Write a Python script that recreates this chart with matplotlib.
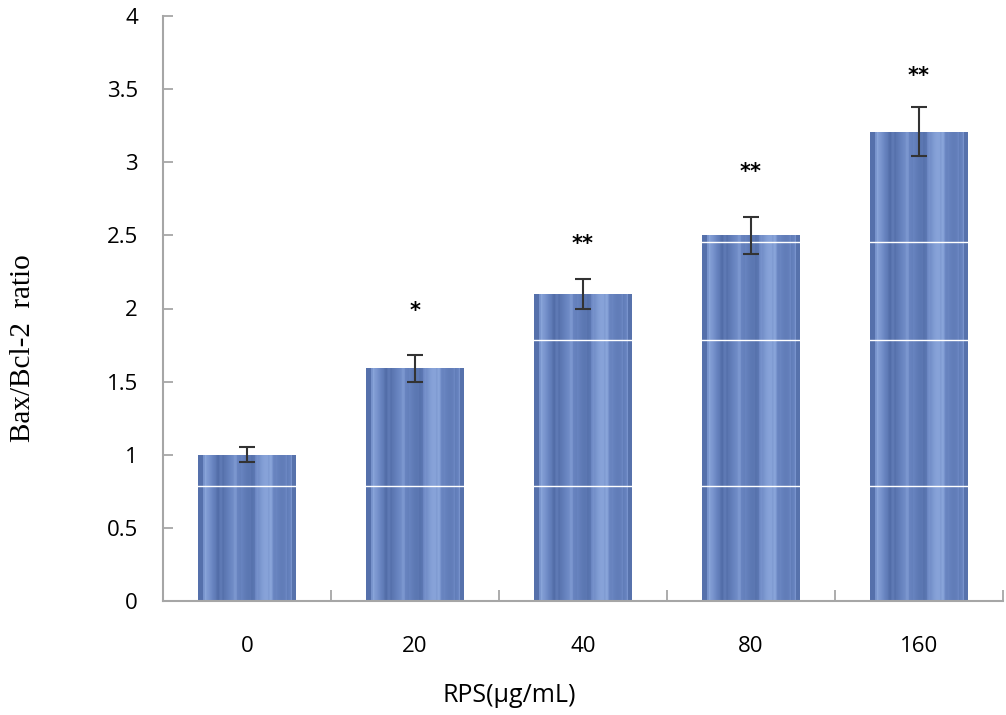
import numpy as np
import matplotlib
matplotlib.use("Agg")
import matplotlib.pyplot as plt
from matplotlib.colors import LinearSegmentedColormap

# ---- data ----
categories = ["0", "20", "40", "80", "160"]
values = [1.00, 1.59, 2.10, 2.50, 3.21]
errors = [0.05, 0.09, 0.10, 0.125, 0.165]
stars = ["", "*", "**", "**", "**"]
star_y = [None, 1.98, 2.44, 2.93, 3.59]
yticks = [0, 0.5, 1, 1.5, 2, 2.5, 3, 3.5, 4]
ytick_labels = ["0", "0.5", "1", "1.5", "2", "2.5", "3", "3.5", "4"]
white_lines = [0.786, 1.785, 2.455]

W, H = 1006, 715
fig = plt.figure(figsize=(W / 100, H / 100), dpi=100)
ax = fig.add_axes([163 / W, 1 - 601 / H, (1003 - 163) / W, (601 - 16) / H])

x = np.arange(len(categories))
bw = 0.58
bars = ax.bar(x, values, width=bw, color="#6a86c2", zorder=2, linewidth=0)

# striped texture inside bars
cmap = LinearSegmentedColormap.from_list("stripe", ["#4f6aa4", "#6a86c2", "#90abdf"])
n = 96
i = np.arange(n)
pat = (0.5 + 0.25 * np.sin(i * 0.21 + 0.3) + 0.15 * np.sin(i * 0.083 + 2.0)
       + 0.12 * np.sign(np.sin(i * 0.9 + 0.5)) * (np.sin(i * 0.37) > 0.3))
pat[:5] = 0.12
pat[-4:] = 0.15
pat = np.clip(pat, 0, 1)[None, :]
for b in bars:
    x0 = b.get_x()
    im = ax.imshow(pat, cmap=cmap, vmin=0, vmax=1, aspect="auto",
                   extent=[x0, x0 + b.get_width(), 0, b.get_height()],
                   interpolation="bilinear", zorder=2.1)
    im.set_clip_path(b)

for wl in white_lines:
    ax.axhline(wl, color="white", lw=1.0, zorder=2.2)

ax.errorbar(x, values, yerr=errors, fmt="none", ecolor="#333333",
            elinewidth=1.5, capsize=6, capthick=1.5, zorder=3)

for xi, s, sy in zip(x, stars, star_y):
    if s:
        ax.text(xi, sy, s, ha="center", va="center", fontsize=15,
                fontweight="bold", color="black", family="DejaVu Sans")

ax.set_xlim(-0.5, len(categories) - 0.5)
ax.set_ylim(0, 4)

for sp in ["top", "right"]:
    ax.spines[sp].set_visible(False)
for sp in ["left", "bottom"]:
    ax.spines[sp].set_color("#a6a6a6")
    ax.spines[sp].set_linewidth(1.5)
    ax.spines[sp].set_zorder(4)

ax.set_yticks(yticks)
ax.set_yticklabels(ytick_labels, fontsize=16, family="Open Sans")
ax.tick_params(axis="y", direction="in", length=7, width=1.3, color="#a6a6a6", pad=18)

ax.set_xticks(np.arange(-0.5, len(categories), 1.0))
ax.set_xticklabels([])
ax.tick_params(axis="x", which="major", direction="in", length=8, width=1.3, color="#a6a6a6")
ax.set_xticks(x, minor=True)
ax.set_xticklabels(categories, minor=True, fontsize=16, family="Open Sans")
ax.tick_params(axis="x", which="minor", length=0, pad=25)

fig.text(509 / W, 1 - 695 / H, "RPS(µg/mL)", ha="center", va="center",
         fontsize=18, family="Open Sans")
fig.text(23 / W, 1 - 348 / H, "Bax/Bcl-2  ratio", ha="center", va="center",
         rotation=90, fontsize=21, family="Liberation Serif")

fig.savefig("out.png", dpi=100)
